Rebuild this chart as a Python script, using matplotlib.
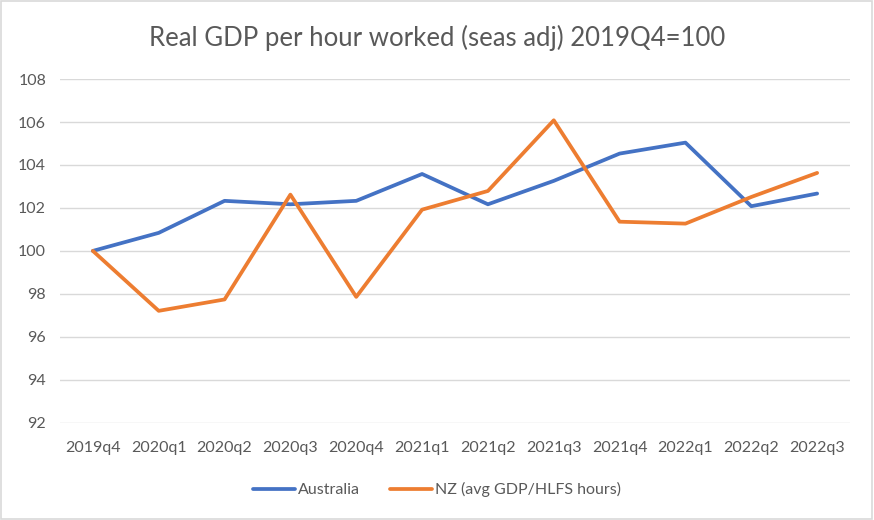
import matplotlib.pyplot as plt
from matplotlib.patches import Rectangle

# --- Data ---
quarters = ["2019q4", "2020q1", "2020q2", "2020q3", "2020q4", "2021q1",
            "2021q2", "2021q3", "2021q4", "2022q1", "2022q2", "2022q3"]
australia = [100.0, 100.84, 102.33, 102.17, 102.33, 103.58,
             102.17, 103.26, 104.53, 105.04, 102.08, 102.67]
nz = [100.0, 97.21, 97.74, 102.62, 97.86, 101.92,
      102.79, 106.08, 101.36, 101.27, 102.51, 103.63]
y_ticks = [92, 94, 96, 98, 100, 102, 104, 106, 108]

TEXT_GREY = "#595959"
GRID_GREY = "#D9D9D9"

plt.rcParams['font.family'] = ['Lato', 'DejaVu Sans']

fig = plt.figure(figsize=(8.74, 5.2), dpi=100)
ax = fig.add_axes([0.0686, 0.187, 0.904, 0.661])

x = range(len(quarters))
ax.plot(x, australia, color="#4472C4", linewidth=2.7, label="Australia",
        solid_capstyle='round', solid_joinstyle='round')
ax.plot(x, nz, color="#ED7D31", linewidth=2.7, label="NZ (avg GDP/HLFS hours)",
        solid_capstyle='round', solid_joinstyle='round')

ax.set_xlim(-0.5, len(quarters) - 0.5)
ax.set_ylim(92, 108)
ax.set_yticks(y_ticks)
ax.set_xticks(list(x))
ax.set_xticklabels(quarters)
ax.grid(axis='y', color=GRID_GREY, linewidth=1)
ax.set_axisbelow(True)
for s in ax.spines.values():
    s.set_visible(False)
ax.tick_params(length=0, labelsize=11.5, colors=TEXT_GREY)
ax.tick_params(axis='x', pad=13)
ax.tick_params(axis='y', pad=10)

fig.text(0.5, 0.927, "Real GDP per hour worked (seas adj) 2019Q4=100",
         ha='center', va='center', fontsize=18.5, color=TEXT_GREY)

ax.legend(loc='center', bbox_to_anchor=(0.5, 0.058), bbox_transform=fig.transFigure,
          ncol=2, frameon=False, fontsize=11.5, labelcolor=TEXT_GREY,
          handlelength=2.6, columnspacing=1.9, handletextpad=0.2)

# light border around the chart area
fig.patches.append(Rectangle((0.001, 0.001), 0.997, 0.997, transform=fig.transFigure,
                             fill=False, edgecolor=GRID_GREY, linewidth=1.2))

fig.savefig("out.png", dpi=100)
